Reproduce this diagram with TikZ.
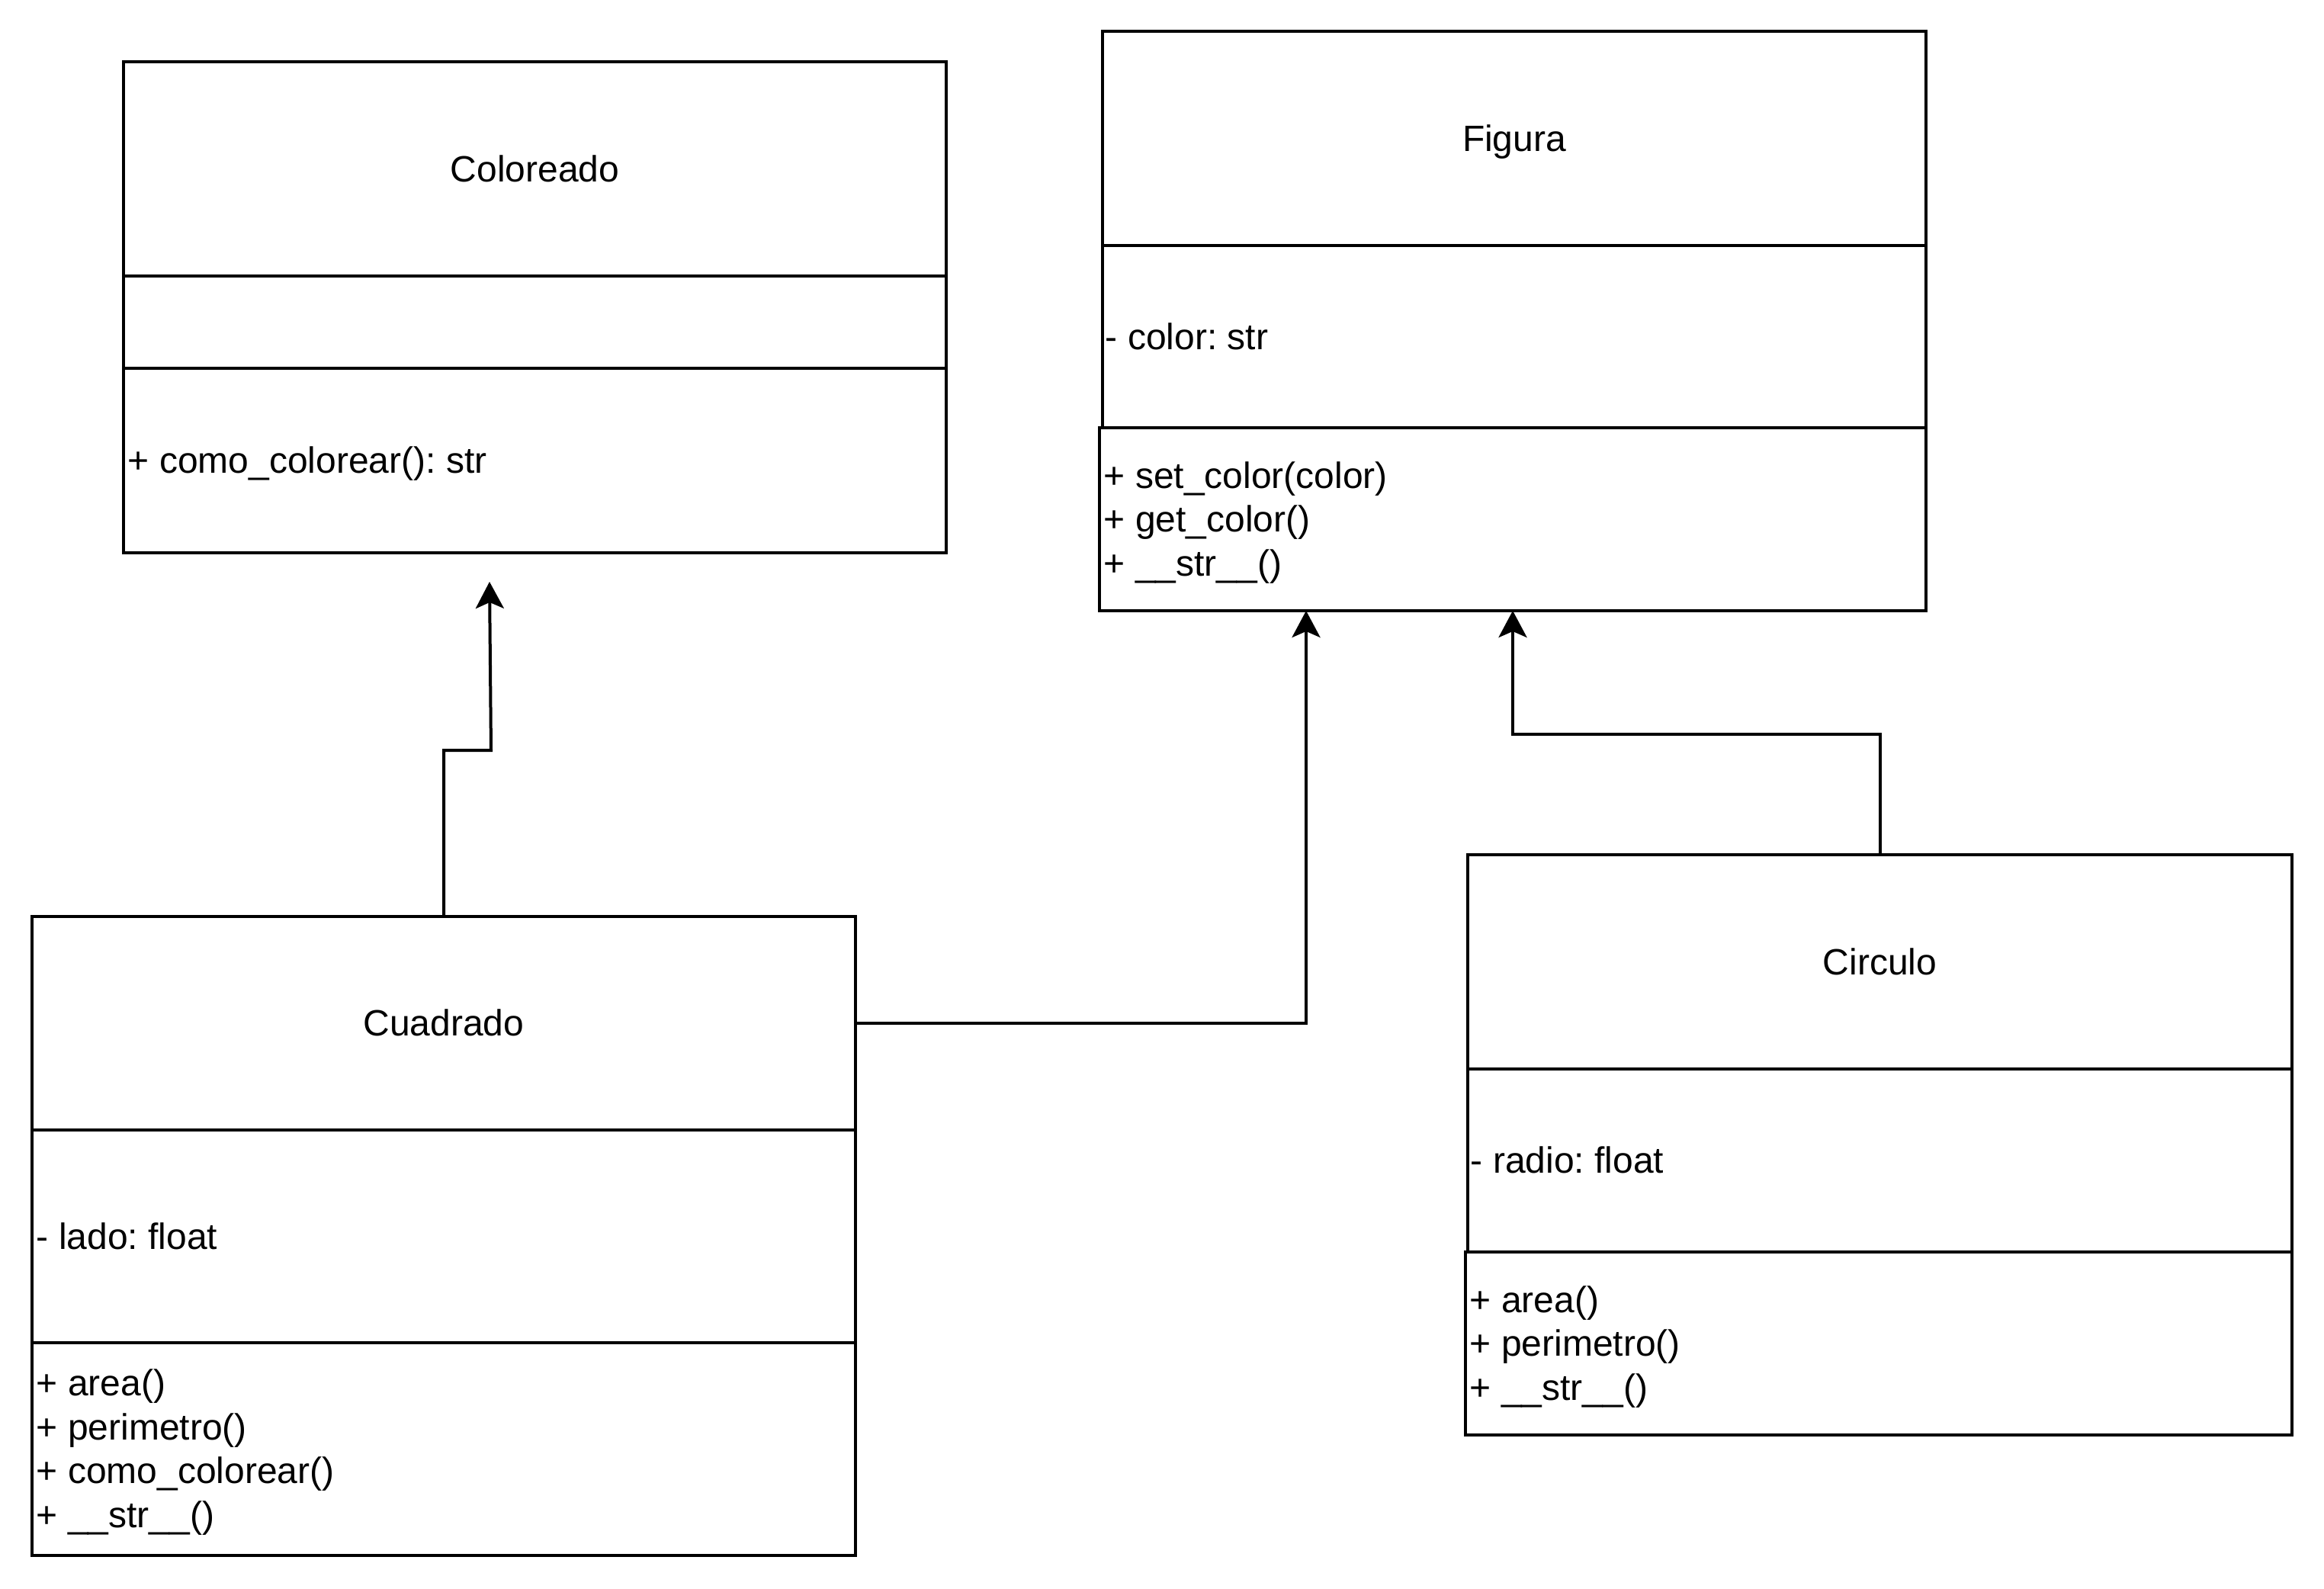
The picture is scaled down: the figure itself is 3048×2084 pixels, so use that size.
\documentclass[tikz,border=0pt]{standalone}
\usepackage{fontspec}
\setmainfont{Liberation Sans}
\usetikzlibrary{arrows.meta,calc}
\frenchspacing
\newcommand\umlstrut{\rule[-3.04pt]{0pt}{14.4pt}}
\newcommand\umlcomp[5]{\node[comp, minimum width={(#4-#2)*0.25pt}, minimum height={(#5-#3)*0.25pt}] (#1) at ({(#2+#4)/2},{(#3+#5)/2}) {};}
\begin{document}
\begin{tikzpicture}[x=0.25pt,y=-0.25pt,
  comp/.style={draw=black,line width=1pt,inner sep=0pt,outer sep=0pt,fill=white},
  classname/.style={inner sep=0pt,font=\fontsize{12pt}{14.4pt}\selectfont},
  member/.style={inner sep=0pt,anchor=west,align=left,font=\fontsize{12pt}{14.4pt}\selectfont\frenchspacing},
  conn/.style={draw=black,line width=1pt,-{Stealth[length=8.75pt,width=9.25pt,inset=2pt]}}]
\path[fill=white] (0,0) rectangle (3048,2084);
\useasboundingbox (0,0) rectangle (3048,2084);
% Coloreado
\umlcomp{colT}{162}{81}{1241}{362}
\umlcomp{colA}{162}{362}{1241}{483}
\umlcomp{colM}{162}{483}{1241}{725}
\node[classname] (colName) at (colT.center) {\umlstrut Coloreado};
\node[member] (colOps) at ($(colM.west)+(5,0)$) {\umlstrut + como\_colorear(): str};
% Figura
\umlcomp{figT}{1446}{41}{2526}{322}
\umlcomp{figA}{1446}{322}{2526}{561}
\umlcomp{figM}{1442}{561}{2526}{801}
\node[classname] (figName) at (figT.center) {\umlstrut Figura};
\node[member] (figAttr) at ($(figA.west)+(3,0)$) {\umlstrut - color: str};
\node[member] (figOps) at ($(figM.west)+(5,0)$) {\umlstrut + set\_color(color)\\\umlstrut + get\_color()\\\umlstrut + \_\_str\_\_()};
% Cuadrado
\umlcomp{cuaT}{42}{1202}{1122}{1482}
\umlcomp{cuaA}{42}{1482}{1122}{1761}
\umlcomp{cuaM}{42}{1761}{1122}{2040}
\node[classname] (cuaName) at (cuaT.center) {\umlstrut Cuadrado};
\node[member] (cuaAttr) at ($(cuaA.west)+(5,0)$) {\umlstrut - lado: float};
\node[member] (cuaOps) at ($(cuaM.west)+(5,0)$) {\umlstrut + area()\\\umlstrut + perimetro()\\\umlstrut + como\_colorear()\\\umlstrut + \_\_str\_\_()};
% Circulo
\umlcomp{cirT}{1925}{1121}{3006}{1402}
\umlcomp{cirA}{1925}{1402}{3006}{1642}
\umlcomp{cirM}{1922}{1642}{3006}{1882}
\node[classname] (cirName) at (cirT.center) {\umlstrut Circulo};
\node[member] (cirAttr) at ($(cirA.west)+(3,0)$) {\umlstrut - radio: float};
\node[member] (cirOps) at ($(cirM.west)+(5,0)$) {\umlstrut + area()\\\umlstrut + perimetro()\\\umlstrut + \_\_str\_\_()};
% connectors
\coordinate (colIn) at (642,763);
\draw[conn] (cuaT.north) -- ++(0,-218) -- ++(62,0) -- (colIn);
\draw[conn] (cuaT.east) -| ($(figM.south west)!0.25!(figM.south east)$);
\draw[conn] (cirT.north) -- ++(0,-158) -| (figM.south);
\end{tikzpicture}
\end{document}
